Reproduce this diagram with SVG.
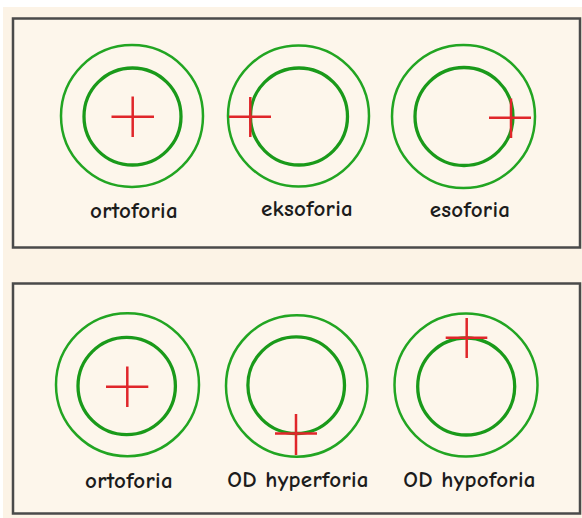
<svg xmlns="http://www.w3.org/2000/svg" width="582" height="518" viewBox="0 0 582 518">
<style>
.panel{fill:#fdf6eb;stroke:#4a4a4a;stroke-width:2.5}
.outer{fill:none;stroke:#22a522;stroke-width:2.5}
.inner{fill:none;stroke:#1a9a1a;stroke-width:3.3}
.cross{fill:none;stroke:#e0262a;stroke-width:2.5}
.lbl{font-family:"Comic Neue","Liberation Sans",sans-serif;font-size:23px;font-weight:700;fill:#1c1c1c;text-anchor:middle;letter-spacing:0.3px}
</style>
<rect x="0" y="0" width="582" height="518" fill="#ffffff"/>
<rect x="3" y="7" width="579" height="511" fill="#fcf3e6"/>
<g id="panel-top"><rect class="panel" x="13" y="18.5" width="567" height="229"/></g>
<g id="panel-bottom"><rect class="panel" x="13" y="283.5" width="567" height="230"/></g>
<g id="top-ortoforia">
<circle class="outer" cx="132" cy="116" r="71"/>
<circle class="inner" cx="132.5" cy="116.5" r="48.5"/>
<path class="cross" d="M111.5 116.7H154M132.7 96.5V137"/>
<text class="lbl" x="134" y="218">ortoforia</text>
</g>
<g id="top-eksoforia">
<circle class="outer" cx="298.5" cy="116" r="70.5"/>
<circle class="inner" cx="299" cy="116.5" r="48.5"/>
<path class="cross" d="M229 116.7H271M250.3 97V137"/>
<text class="lbl" x="307" y="216">eksoforia</text>
</g>
<g id="top-esoforia">
<circle class="outer" cx="463.5" cy="116.5" r="71.5"/>
<circle class="inner" cx="464" cy="116.5" r="49"/>
<path class="cross" d="M489 117.7H531M511 98.5V138"/>
<text class="lbl" x="470" y="217">esoforia</text>
</g>
<g id="bottom-ortoforia">
<circle class="outer" cx="127.5" cy="384.7" r="71.5"/>
<circle class="inner" cx="126.7" cy="386" r="48.7"/>
<path class="cross" d="M106 386.7H148.3M127.3 366.5V407"/>
<text class="lbl" x="129" y="488">ortoforia</text>
</g>
<g id="bottom-hyperforia">
<circle class="outer" cx="296.7" cy="386" r="70.7"/>
<circle class="inner" cx="296.2" cy="385.2" r="48.3"/>
<path class="cross" d="M275 433.5H317M296 414V455"/>
<text class="lbl" x="298" y="487">OD hyperforia</text>
</g>
<g id="bottom-hypoforia">
<circle class="outer" cx="466" cy="385" r="71.5"/>
<circle class="inner" cx="466.2" cy="386.5" r="48.5"/>
<path class="cross" d="M445.7 337.7H487.3M466.7 318V358"/>
<text class="lbl" x="469.5" y="487">OD hypoforia</text>
</g>
<g id="connectors"/>
</svg>
